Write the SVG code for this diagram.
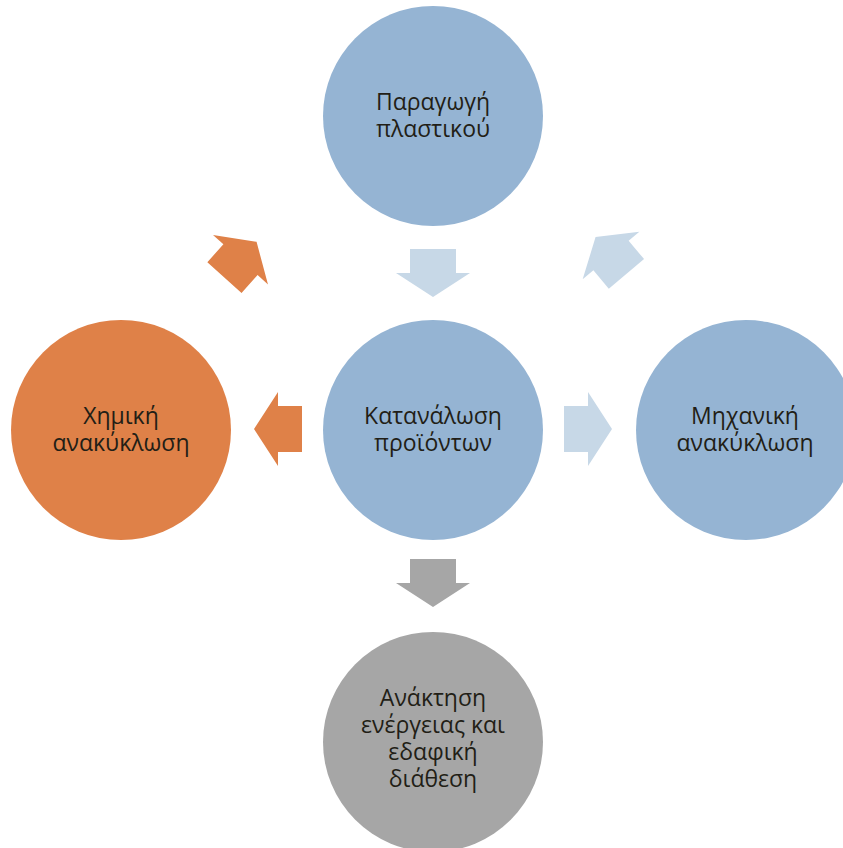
<svg xmlns="http://www.w3.org/2000/svg" width="843" height="848" viewBox="0 0 843 848">
<defs>
<style>
.blue{fill:#95B4D3}
.orange{fill:#DF8148}
.gray{fill:#A6A6A6}
.lb{fill:#C7D8E7}
.t{font-family:"Open Sans","Noto Sans",sans-serif;font-size:23px;fill:#221E16;text-anchor:middle}
</style>
<path id="arr" d="M-24,-23 L0,-23 L0,-37 L24,0 L0,37 L0,23 L-24,23 Z"/>
</defs>
<rect width="843" height="848" fill="#FFFFFF"/>
<g id="connectors">
<use href="#arr" class="lb" transform="translate(433,273) rotate(90)"/>
<use href="#arr" class="lb" transform="translate(588,429)"/>
<use href="#arr" class="orange" transform="translate(278,429) rotate(180)"/>
<use href="#arr" class="gray" transform="translate(433,583) rotate(90)"/>
<use href="#arr" class="orange" transform="translate(240.5,259.7) rotate(-48)"/>
<use href="#arr" class="lb" transform="translate(611,255.5) rotate(-130)"/>
</g>
<g id="n-top">
<circle class="blue" cx="433" cy="116" r="110"/>
<text class="t" x="433" y="110">Παραγωγή</text>
<text class="t" x="433" y="137">πλαστικού</text>
</g>
<g id="n-center">
<circle class="blue" cx="433" cy="430" r="110"/>
<text class="t" x="433" y="424">Κατανάλωση</text>
<text class="t" x="433" y="451">προϊόντων</text>
</g>
<g id="n-left">
<circle class="orange" cx="121" cy="430" r="110"/>
<text class="t" x="121" y="424">Χημική</text>
<text class="t" x="121" y="451">ανακύκλωση</text>
</g>
<g id="n-right">
<circle class="blue" cx="746" cy="430" r="110"/>
<text class="t" x="745" y="424">Μηχανική</text>
<text class="t" x="745" y="451">ανακύκλωση</text>
</g>
<g id="n-bottom">
<circle class="gray" cx="433" cy="742" r="110"/>
<text class="t" x="433" y="706">Ανάκτηση</text>
<text class="t" x="433" y="733">ενέργειας και</text>
<text class="t" x="433" y="760">εδαφική</text>
<text class="t" x="433" y="787">διάθεση</text>
</g>
</svg>
